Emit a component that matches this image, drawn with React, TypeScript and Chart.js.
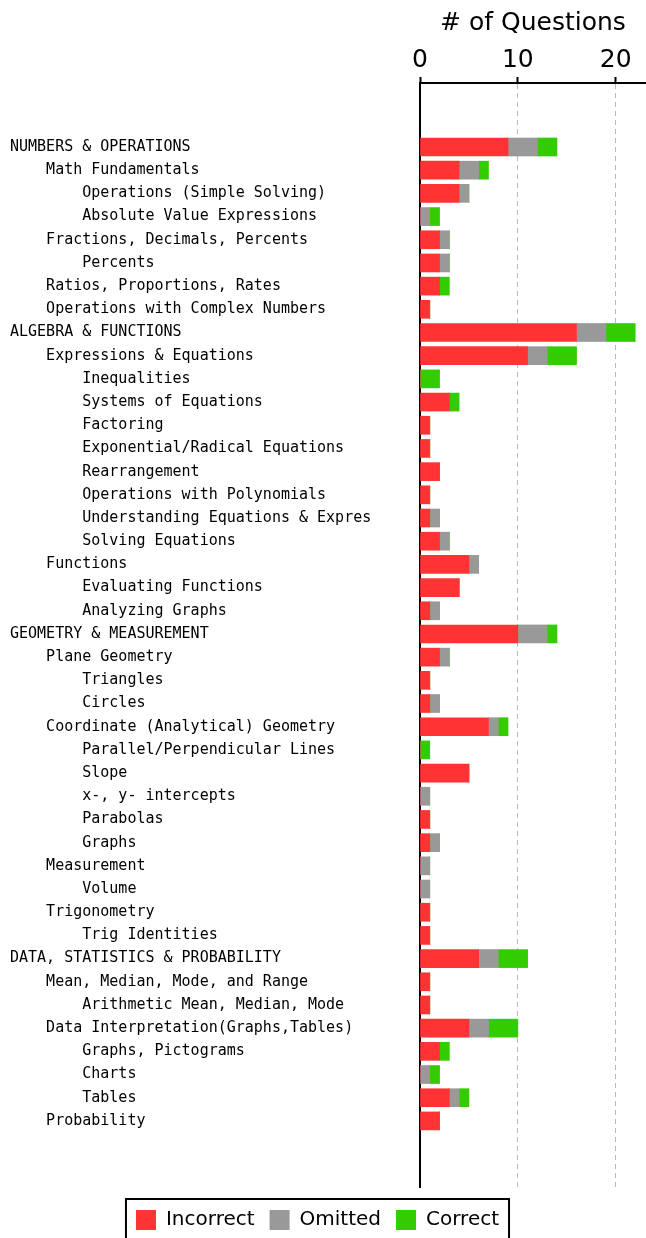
import React, { useEffect, useRef } from "react";
import { Chart, registerables } from "chart.js";

Chart.register(...registerables);

const categories: string[] = [
  "NUMBERS & OPERATIONS",
  "    Math Fundamentals",
  "        Operations (Simple Solving)",
  "        Absolute Value Expressions",
  "    Fractions, Decimals, Percents",
  "        Percents",
  "    Ratios, Proportions, Rates",
  "    Operations with Complex Numbers",
  "ALGEBRA & FUNCTIONS",
  "    Expressions & Equations",
  "        Inequalities",
  "        Systems of Equations",
  "        Factoring",
  "        Exponential/Radical Equations",
  "        Rearrangement",
  "        Operations with Polynomials",
  "        Understanding Equations & Expres",
  "        Solving Equations",
  "    Functions",
  "        Evaluating Functions",
  "        Analyzing Graphs",
  "GEOMETRY & MEASUREMENT",
  "    Plane Geometry",
  "        Triangles",
  "        Circles",
  "    Coordinate (Analytical) Geometry",
  "        Parallel/Perpendicular Lines",
  "        Slope",
  "        x-, y- intercepts",
  "        Parabolas",
  "        Graphs",
  "    Measurement",
  "        Volume",
  "    Trigonometry",
  "        Trig Identities",
  "DATA, STATISTICS & PROBABILITY",
  "    Mean, Median, Mode, and Range",
  "        Arithmetic Mean, Median, Mode",
  "    Data Interpretation(Graphs,Tables)",
  "        Graphs, Pictograms",
  "        Charts",
  "        Tables",
  "    Probability",
];

const incorrect: number[] = [
  9, 4, 4, 0, 2, 2, 2, 1,
  16, 11, 0, 3, 1, 1, 2, 1, 1, 2, 5, 4, 1,
  10, 2, 1, 1, 7, 0, 5, 0, 1, 1, 0, 0, 1, 1,
  6, 1, 1, 5, 2, 0, 3, 2,
];
const omitted: number[] = [
  3, 2, 1, 1, 1, 1, 0, 0,
  3, 2, 0, 0, 0, 0, 0, 0, 1, 1, 1, 0, 1,
  3, 1, 0, 1, 1, 0, 0, 1, 0, 1, 1, 1, 0, 0,
  2, 0, 0, 2, 0, 1, 1, 0,
];
const correct: number[] = [
  2, 1, 0, 1, 0, 0, 1, 0,
  3, 3, 2, 1, 0, 0, 0, 0, 0, 0, 0, 0, 0,
  1, 0, 0, 0, 1, 1, 0, 0, 0, 0, 0, 0, 0, 0,
  3, 0, 0, 3, 1, 1, 1, 0,
];

const seriesNames = ["Incorrect", "Omitted", "Correct"];
const seriesColors = ["#ff3333", "#999999", "#33cc00"];
const xTickValues = [0, 10, 20];

const legendFrame = {
  id: "legendFrame",
  beforeDraw(chart: any) {
    const lg = chart.legend;
    if (!lg) return;
    lg.left = -0.5;
    lg.right = chart.width - 10.5;
  },
  afterDraw(chart: any) {
    const lg = chart.legend;
    if (!lg || !lg.lineWidths) return;
    const p = lg.options.labels.padding;
    const lw = lg.lineWidths[0];
    const itemsLeft = (lg.left + lg.right + p - lw) / 2;
    const itemsRight = itemsLeft + lw - p;
    const boxTop = chart.height + 2 - 30;
    const ctx = chart.ctx;
    ctx.save();
    ctx.strokeStyle = "#000";
    ctx.lineWidth = 2;
    ctx.strokeRect(itemsLeft - 10, boxTop - 11, itemsRight - itemsLeft + 20, 100);
    ctx.restore();
  },
};

export default function App() {
  const ref = useRef<HTMLCanvasElement | null>(null);
  useEffect(() => {
    document.body.style.margin = "0";
    const canvas = ref.current;
    if (!canvas) return;
    const mk = (arr: number[]) => arr.map((v, i) => ({ x: v, y: i }));
    const chart = new Chart(canvas, {
      type: "bar",
      data: {
        datasets: [incorrect, omitted, correct].map((arr, k) => ({
          label: seriesNames[k],
          data: mk(arr),
          backgroundColor: seriesColors[k],
          borderWidth: 0,
          barThickness: 18,
        })),
      },
      plugins: [legendFrame],
      options: {
        indexAxis: "y",
        responsive: false,
        animation: false,
        layout: { padding: { left: 10, right: 0, top: 0, bottom: -2 } },
        font: { family: "DejaVu Sans" },
        scales: {
          x: {
            type: "linear",
            position: "top",
            stacked: true,
            min: 0,
            max: 23.1,
            afterFit: (s: any) => {
              s.height = 83;
            },
            afterBuildTicks: (s: any) => {
              s.ticks = xTickValues.map((v) => ({ value: v }));
            },
            ticks: {
              color: "#000",
              padding: 2,
              font: { family: "DejaVu Sans", size: 25 },
              includeBounds: false,
            },
            title: {
              display: true,
              text: "# of Questions",
              color: "#000",
              font: { family: "DejaVu Sans", size: 25 },
              padding: { top: 8, bottom: 0 },
            },
            grid: {
              color: "#b8b8b8",
              lineWidth: 1,
              tickColor: "#000",
              tickLength: 6,
              tickWidth: 2,
            },
            border: { display: true, color: "#000", width: 2, dash: [5, 4] },
          },
          y: {
            type: "linear",
            stacked: true,
            reverse: true,
            offset: false,
            min: -2.76,
            max: 44.85,
            afterFit: (s: any) => {
              s.width = 410;
            },
            afterBuildTicks: (s: any) => {
              s.ticks = categories.map((_, i) => ({ value: i }));
            },
            ticks: {
              autoSkip: false,
              crossAlign: "far",
              color: "#000",
              font: { family: "DejaVu Sans Mono", size: 15 },
              callback: (v: any) => categories[v as number] ?? "",
            },
            grid: { display: false, drawTicks: false },
            border: { display: true, color: "#000", width: 2 },
          },
        },
        plugins: {
          legend: {
            position: "bottom",
            title: {
              display: true,
              text: "",
              font: { size: 8, lineHeight: 1 },
              padding: 0,
            },
            labels: {
              boxWidth: 20,
              boxHeight: 20,
              padding: 15,
              color: "#000",
              font: { family: "DejaVu Sans", size: 20 },
            },
          },
          tooltip: { enabled: false },
        },
      } as any,
    });
    return () => chart.destroy();
  }, []);
  return (
    <canvas
      ref={ref}
      width={646}
      height={1238}
      style={{ display: "block", width: 646, height: 1238 }}
    />
  );
}
